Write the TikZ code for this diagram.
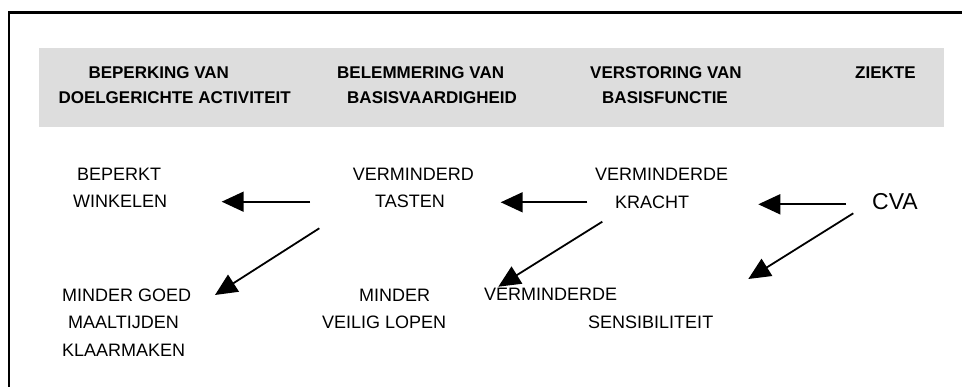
\documentclass[tikz,border=0pt]{standalone}
\usepackage{fontspec}
\setmainfont{Liberation Sans}
\usetikzlibrary{arrows.meta}
\definecolor{band}{HTML}{DDDDDD}
\tikzset{
  hdr/.style={anchor=base west, inner sep=0pt, font=\fontsize{17}{20}\selectfont\bfseries},
  lbl/.style={anchor=base west, inner sep=0pt, font=\fontsize{18}{21}\selectfont},
  big/.style={anchor=base west, inner sep=0pt, font=\fontsize{23}{26}\selectfont},
  conn/.style={line width=1.8pt, -{Triangle[length=22pt,width=20pt]}},
  frameline/.style={line width=2.2pt}
}
\begin{document}
\begin{tikzpicture}[x=1pt,y=-1pt]
\useasboundingbox (0,0) rectangle (962,387);
% frame (open to right and bottom)
\draw[frameline] (9,387) -- (9,12.5) -- (962,12.5);
% header band
\fill[band] (39,48) rectangle (943.7,126.7);
% headers
\node[hdr] (h1a) at (88.3,78.3) {BEPERKING VAN};
\node[hdr] (h1b) at (58.3,103.3) {DOELGERICHTE ACTIVITEIT};
\node[hdr] (h2a) at (337,78.3) {BELEMMERING VAN};
\node[hdr] (h2b) at (347,103.3) {BASISVAARDIGHEID};
\node[hdr] (h3a) at (590,78.3) {VERSTORING VAN};
\node[hdr] (h3b) at (602,103.3) {BASISFUNCTIE};
\node[hdr] (h4) at (855,78.3) {ZIEKTE};
% body labels
\node[lbl] (bw1) at (77,181) {BEPERKT};
\node[lbl] (bw2) at (73,208) {WINKELEN};
\node[lbl] (vt1) at (352.7,180.7) {VERMINDERD};
\node[lbl] (vt2) at (375,207.5) {TASTEN};
\node[lbl] (vk1) at (595,181) {VERMINDERDE};
\node[lbl] (vk2) at (615,208.5) {KRACHT};
\node[big] (cva) at (872,210) {CVA};
\node[lbl] (mg1) at (62,301.5) {MINDER GOED};
\node[lbl] (mg2) at (68,328.5) {MAALTIJDEN};
\node[lbl] (mg3) at (62,356.5) {KLAARMAKEN};
\node[lbl] (mv1) at (359,301.5) {MINDER};
\node[lbl] (mv2) at (322,328.5) {VEILIG LOPEN};
\node[lbl] (vs1) at (484,301) {VERMINDERDE};
\node[lbl] (vs2) at (588,328.3) {SENSIBILITEIT};
% arrow end points
\coordinate (a1s) at (310,201.7);
\coordinate (a1e) at (221.7,201.7);
\coordinate (a2s) at (587.3,202.3);
\coordinate (a2e) at (500.7,202.3);
\coordinate (a3s) at (846,204.3);
\coordinate (a3e) at (758.3,204.3);
\coordinate (d1s) at (319.3,228.3);
\coordinate (d1e) at (215,295);
\coordinate (d2s) at (602.3,221.7);
\coordinate (d2e) at (498.3,286.7);
\coordinate (d3s) at (853.3,213.3);
\coordinate (d3e) at (748.3,279);
% connectors
\draw[conn] (a1s) -- (a1e);
\draw[conn] (a2s) -- (a2e);
\draw[conn] (a3s) -- (a3e);
\draw[conn] (d1s) -- (d1e);
\draw[conn] (d2s) -- (d2e);
\draw[conn] (d3s) -- (d3e);
\end{tikzpicture}
\end{document}
